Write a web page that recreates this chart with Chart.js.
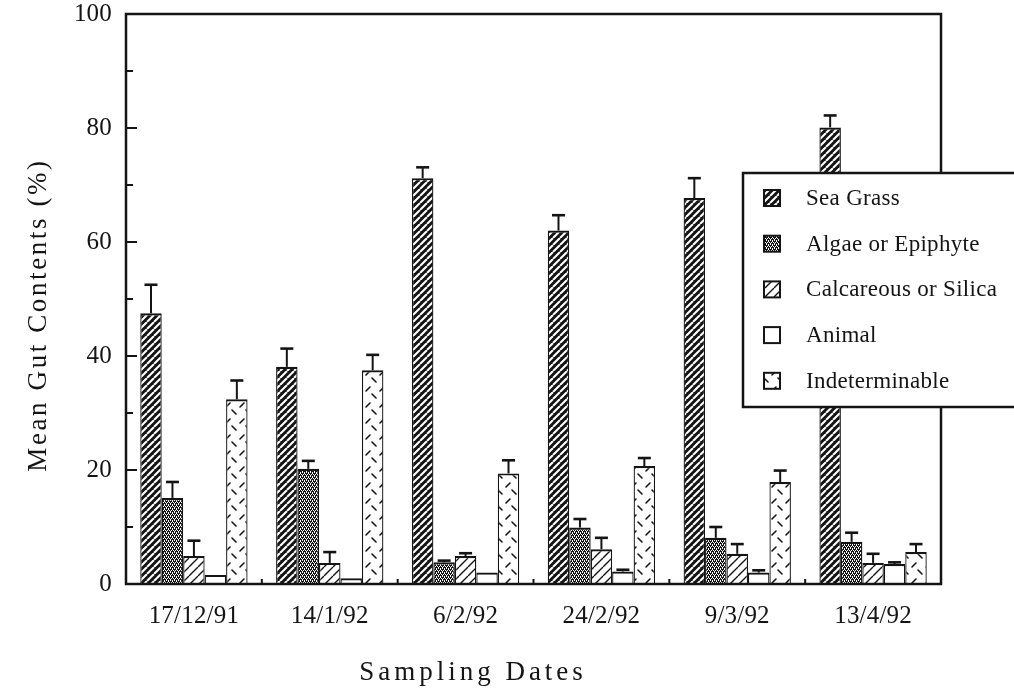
<!DOCTYPE html>
<html>
<head>
<meta charset="utf-8">
<script src="https://cdn.jsdelivr.net/npm/chart.js@4.4.1/dist/chart.umd.min.js"></script>
<style>
  html, body { margin: 0; padding: 0; background: #ffffff; }
  #wrap { position: relative; width: 1014px; height: 697px; }
</style>
</head>
<body>
<div id="wrap"><canvas id="c"></canvas></div>
<script>
// ---- Data ----
const categories = ['17/12/91', '14/1/92', '6/2/92', '24/2/92', '9/3/92', '13/4/92'];
const seriesNames = ['Sea Grass', 'Algae or Epiphyte', 'Calcareous or Silica', 'Animal', 'Indeterminable'];
const seaGrass    = [47.5, 38.1, 71.2, 62.0, 67.7, 80.1];
const seaGrassErr = [5.0, 3.2, 1.9, 2.7, 3.5, 2.1];
const algae       = [15.1, 20.2, 3.8, 9.9, 8.1, 7.4];
const algaeErr    = [2.8, 1.4, 0.3, 1.5, 1.9, 1.6];
const calcareous    = [4.9, 3.7, 4.9, 6.1, 5.3, 3.7];
const calcareousErr = [2.7, 1.9, 0.5, 2.0, 1.7, 1.6];
const animal      = [1.6, 1.0, 2.0, 2.2, 2.0, 3.5];
const animalErr   = [0, 0, 0, 0.3, 0.4, 0.3];
const indeterminable    = [32.4, 37.5, 19.4, 20.7, 17.9, 5.6];
const indeterminableErr = [3.3, 2.7, 2.3, 1.4, 2.0, 1.4];
const yTickValues = [0, 20, 40, 60, 80, 100];
const yMinorValues = [10, 30, 50, 70, 90];
const xTitle = 'Sampling Dates';
const yTitle = 'Mean Gut Contents (%)';

// ---- Fill patterns ----
const INK = '#141414';
const FONT = '"Liberation Serif", "Times New Roman", serif';
function makePattern(w, h, draw) {
  const c = document.createElement('canvas');
  c.width = w; c.height = h;
  const g = c.getContext('2d');
  draw(g, w, h);
  return g.createPattern(c, 'repeat');
}
function diag(g, s) {
  g.beginPath();
  for (let k = -1; k <= 1; k++) { g.moveTo(k * s, s); g.lineTo(k * s + s, 0); }
  g.stroke();
}
const patSeaGrass = makePattern(7, 7, (g, w, h) => {
  g.fillStyle = INK; g.fillRect(0, 0, w, h);
  g.strokeStyle = '#ffffff'; g.lineWidth = 2.1; diag(g, 7);
});
const patAlgae = makePattern(4, 4, (g, w, h) => {
  g.fillStyle = INK; g.fillRect(0, 0, w, h);
  g.fillStyle = '#ffffff';
  [[0,0],[2,0],[1,2],[3,2],[0,1],[2,3]].forEach(p => g.fillRect(p[0], p[1], 1, 1));
});
const patCalc = makePattern(9, 9, (g, w, h) => {
  g.fillStyle = '#ffffff'; g.fillRect(0, 0, w, h);
  g.strokeStyle = INK; g.lineWidth = 1.4; diag(g, 9);
});
const patIndet = makePattern(14, 16, (g, w, h) => {
  g.fillStyle = '#ffffff'; g.fillRect(0, 0, w, h);
  g.strokeStyle = INK; g.lineWidth = 1.6; g.lineCap = 'round';
  g.beginPath();
  g.moveTo(2, 7); g.lineTo(6, 3);
  g.moveTo(8, 10); g.lineTo(12, 14);
  g.stroke();
});

const seriesValues = [seaGrass, algae, calcareous, animal, indeterminable];
const seriesErrors = [seaGrassErr, algaeErr, calcareousErr, animalErr, indeterminableErr];
const seriesFills = [patSeaGrass, patAlgae, patCalc, '#ffffff', patIndet];

const datasets = seriesNames.map((name, i) => ({
  label: name,
  data: seriesValues[i],
  errors: seriesErrors[i],
  backgroundColor: seriesFills[i],
  borderColor: INK,
  borderWidth: { top: 2.2, left: 1.3, right: 1.3, bottom: 0 },
  borderSkipped: 'start',
  categoryPercentage: 0.79,
  barPercentage: 1.0
}));

// ---- Plugins ----
const spacingPlugin = {
  id: 'spacing',
  beforeDraw(chart) { chart.ctx.letterSpacing = '0.2px'; }
};

const errorBarPlugin = {
  id: 'errorBars',
  afterDatasetsDraw(chart) {
    const ctx = chart.ctx, y = chart.scales.y;
    ctx.save();
    ctx.strokeStyle = INK;
    chart.data.datasets.forEach((ds, i) => {
      const meta = chart.getDatasetMeta(i);
      meta.data.forEach((bar, j) => {
        const e = ds.errors[j];
        if (!e) return;
        const y0 = y.getPixelForValue(ds.data[j]);
        const y1 = y.getPixelForValue(ds.data[j] + e);
        ctx.lineWidth = 2;
        ctx.beginPath(); ctx.moveTo(bar.x, y0); ctx.lineTo(bar.x, y1); ctx.stroke();
        ctx.lineWidth = 2.6;
        ctx.beginPath(); ctx.moveTo(bar.x - 6.5, y1); ctx.lineTo(bar.x + 6.5, y1); ctx.stroke();
      });
    });
    ctx.restore();
  }
};

const framePlugin = {
  id: 'frame',
  afterDatasetsDraw(chart) {
    const ctx = chart.ctx, a = chart.chartArea, x = chart.scales.x, y = chart.scales.y;
    ctx.save();
    ctx.strokeStyle = INK;
    ctx.lineWidth = 2.5;
    ctx.strokeRect(a.left, a.top, a.right - a.left, a.bottom - a.top);
    ctx.lineWidth = 2;
    ctx.beginPath();
    yTickValues.forEach(v => {
      const py = y.getPixelForValue(v);
      ctx.moveTo(a.left, py); ctx.lineTo(a.left + 11, py);
    });
    yMinorValues.forEach(v => {
      const py = y.getPixelForValue(v);
      ctx.moveTo(a.left, py); ctx.lineTo(a.left + 7, py);
    });
    for (let k = 1; k < categories.length; k++) {
      const px = (x.getPixelForValue(k - 1) + x.getPixelForValue(k)) / 2;
      ctx.moveTo(px, a.bottom); ctx.lineTo(px, a.bottom - 5);
    }
    ctx.stroke();
    ctx.restore();
  }
};

const titlesLegendPlugin = {
  id: 'titlesLegend',
  afterDraw(chart) {
    const ctx = chart.ctx;
    ctx.save();
    ctx.fillStyle = INK;
    // axis titles
    ctx.font = '27px ' + FONT;
    ctx.textAlign = 'center';
    ctx.textBaseline = 'alphabetic';
    ctx.letterSpacing = '4px';
    ctx.fillText(xTitle, 473, 680);
    ctx.letterSpacing = '2.6px';
    ctx.save();
    ctx.translate(46, 315);
    ctx.rotate(-Math.PI / 2);
    ctx.fillText(yTitle, 0, 0);
    ctx.restore();

    // legend box
    const lx = 743, ly = 173, lw = 300, lh = 234;
    ctx.fillStyle = '#ffffff';
    ctx.fillRect(lx, ly, lw, lh);
    ctx.strokeStyle = INK; ctx.lineWidth = 2.5;
    ctx.strokeRect(lx, ly, lw, lh);
    ctx.letterSpacing = '0.3px';
    ctx.font = '23px ' + FONT;
    ctx.textAlign = 'left';
    ctx.textBaseline = 'middle';
    chart.data.datasets.forEach((ds, i) => {
      const cy = 198 + i * 45.7;
      ctx.fillStyle = ds.backgroundColor;
      ctx.fillRect(764, cy - 8, 16, 16);
      ctx.lineWidth = 2; ctx.strokeStyle = INK;
      ctx.strokeRect(764, cy - 8, 16, 16);
      ctx.fillStyle = INK;
      ctx.fillText(ds.label, 806, cy + 1);
    });
    ctx.restore();
  }
};

new Chart(document.getElementById('c'), {
  type: 'bar',
  data: { labels: categories, datasets: datasets },
  plugins: [spacingPlugin, errorBarPlugin, framePlugin, titlesLegendPlugin],
  options: {
    responsive: true,
    maintainAspectRatio: false,
    animation: false,
    events: [],
    layout: { padding: { top: 14, right: 73, left: 0, bottom: 0 } },
    plugins: { legend: { display: false }, tooltip: { enabled: false }, title: { display: false } },
    scales: {
      x: {
        offset: true,
        grid: { display: false, drawTicks: false },
        border: { display: false },
        ticks: { color: INK, font: { family: FONT, size: 25 }, padding: 17, maxRotation: 0, autoSkip: false },
        afterFit(s) { s.height = 113; s.paddingLeft = 0; s.paddingRight = 0; }
      },
      y: {
        min: 0, max: 100,
        afterBuildTicks(s) { s.ticks = yTickValues.map(v => ({ value: v })); },
        grid: { display: false, drawTicks: false },
        border: { display: false },
        ticks: { color: INK, font: { family: FONT, size: 25 }, padding: 14 },
        afterFit(s) { s.width = 126; s.paddingTop = 0; s.paddingBottom = 0; }
      }
    }
  }
});
</script>
</body>
</html>
